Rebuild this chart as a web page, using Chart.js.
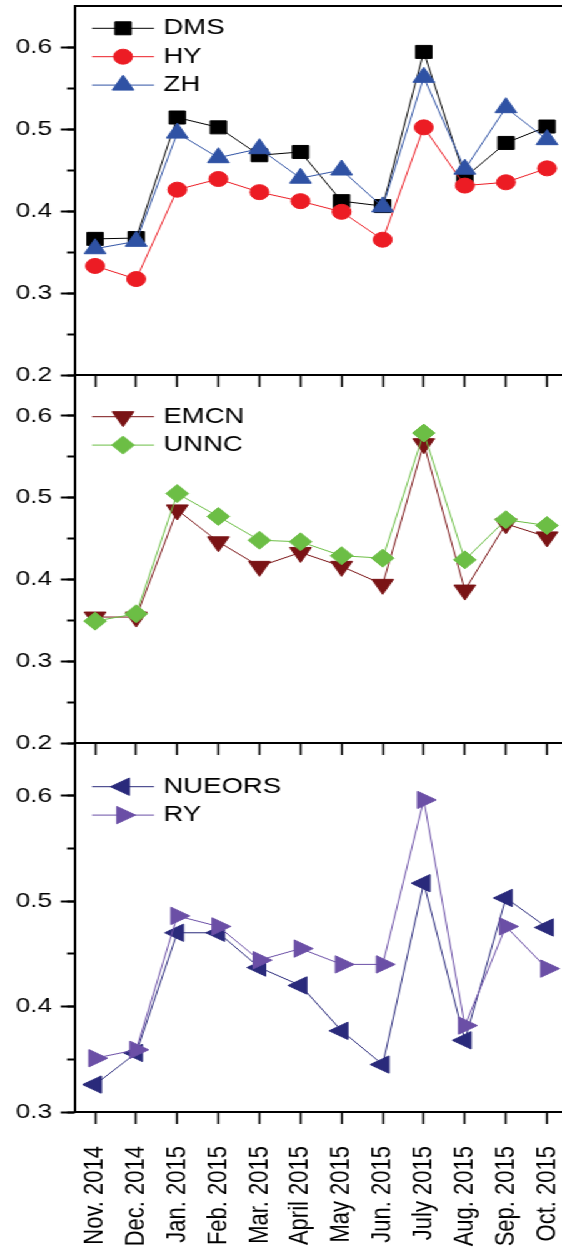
<!DOCTYPE html>
<html>
<head>
<meta charset="utf-8">
<script src="https://cdn.jsdelivr.net/npm/chart.js@4.4.1/dist/chart.umd.min.js"></script>
<style>
  html, body { margin: 0; padding: 0; background: #fff; overflow: hidden; width: 562px; height: 1259px; }
  /* the original figure is stretched sideways, so draw narrow and widen */
  #wrap { position: absolute; left: 0; top: 0; width: 454px; height: 1259px; transform: scaleX(1.25); transform-origin: 0 0; }
  canvas { position: absolute; left: 0; }
</style>
</head>
<body>
<div id="wrap">
  <canvas id="c1" width="454" height="387" style="top:0;width:454px;height:387px"></canvas>
  <canvas id="c2" width="454" height="390" style="top:365px;width:454px;height:390px"></canvas>
  <canvas id="c3" width="454" height="526" style="top:733px;width:454px;height:526px"></canvas>
</div>
<script>
// months on the shared x axis
const months = ["Nov. 2014", "Dec. 2014", "Jan. 2015", "Feb. 2015", "Mar. 2015", "April 2015",
  "May 2015", "Jun. 2015", "July 2015", "Aug. 2015", "Sep. 2015", "Oct. 2015"];

// panel 1
const dms = [0.366, 0.367, 0.514, 0.502, 0.468, 0.472, 0.412, 0.406, 0.594, 0.441, 0.483, 0.503];
const hy  = [0.333, 0.317, 0.426, 0.439, 0.423, 0.412, 0.399, 0.365, 0.502, 0.431, 0.435, 0.452];
const zh  = [0.354, 0.363, 0.495, 0.465, 0.476, 0.440, 0.450, 0.405, 0.563, 0.451, 0.526, 0.487];
// panel 2
const emcn = [0.354, 0.354, 0.485, 0.446, 0.416, 0.433, 0.416, 0.394, 0.566, 0.387, 0.468, 0.452];
const unnc = [0.349, 0.358, 0.505, 0.477, 0.448, 0.446, 0.429, 0.426, 0.579, 0.424, 0.473, 0.466];
// panel 3
const nueors = [0.326, 0.356, 0.470, 0.470, 0.437, 0.420, 0.377, 0.345, 0.517, 0.368, 0.503, 0.475];
const ry     = [0.351, 0.359, 0.486, 0.476, 0.444, 0.455, 0.440, 0.440, 0.596, 0.382, 0.476, 0.436];

// y ranges of the three panels
const yMins = [0.2, 0.2, 0.3];
const yMax = 0.65;

Chart.defaults.font.family = '"Liberation Sans", Arial, Helvetica, sans-serif';
Chart.defaults.color = "#000";

function series(label, data, color, style, radius, rotation) {
  return {
    label, data,
    borderColor: color, backgroundColor: color,
    pointBorderColor: color, pointBackgroundColor: color,
    borderWidth: 1, pointBorderWidth: 1,
    pointStyle: style, pointRadius: radius, pointRotation: rotation || 0,
    tension: 0, fill: false
  };
}

// legend drawn inside the plot: short line with the marker on it, then the name
const lineLegend = {
  id: "lineLegend",
  afterDatasetsDraw(chart, args, opts) {
    const { ctx, chartArea } = chart;
    ctx.save();
    ctx.font = opts.font;
    ctx.textBaseline = "middle";
    ctx.textAlign = "left";
    chart.data.datasets.forEach((ds, i) => {
      const y = chartArea.top + opts.top + i * opts.rowHeight;
      const x0 = chartArea.left + opts.left;
      ctx.strokeStyle = ds.borderColor;
      ctx.lineWidth = ds.borderWidth;
      ctx.beginPath();
      ctx.moveTo(x0, y);
      ctx.lineTo(x0 + opts.lineLength, y);
      ctx.stroke();
      ctx.fillStyle = ds.pointBackgroundColor;
      ctx.strokeStyle = ds.pointBorderColor;
      ctx.lineWidth = ds.pointBorderWidth;
      Chart.helpers.drawPoint(ctx, {
        pointStyle: ds.pointStyle, radius: ds.pointRadius,
        rotation: ds.pointRotation, borderWidth: ds.pointBorderWidth
      }, x0 + opts.lineLength / 2, y);
      ctx.fillStyle = "#000";
      ctx.fillText(ds.label, x0 + opts.textOffset, y);
    });
    ctx.restore();
  }
};

function makeChart(id, datasets, yMin, cfg) {
  // later series sit on top
  datasets.forEach((ds, i) => { ds.order = datasets.length - i; });

  const scales = {
    x: {
      type: "category", position: "bottom", offset: true,
      grid: { drawOnChartArea: false, drawTicks: true, tickLength: 12, tickColor: "#000", tickWidth: 1.6 },
      border: { display: true, color: "#000", width: 2 },
      ticks: { display: cfg.labels, autoSkip: false, minRotation: 90, maxRotation: 90, padding: 22, font: { size: 22 } },
      afterFit: s => { s.height = cfg.xHeight; s.paddingLeft = 0; s.paddingRight = 0; }
    },
    y: {
      type: "linear", position: "left", min: yMin, max: yMax, weight: 1,
      grid: { drawOnChartArea: false, tickLength: 11, tickColor: "#000", tickWidth: 2 },
      border: { display: true, color: "#000", width: 2 },
      ticks: { stepSize: 0.1, includeBounds: false, padding: 7, font: { size: 21 }, callback: v => v.toFixed(1) },
      afterFit: s => { s.width = 59.6; s.paddingTop = 0; s.paddingBottom = 0; }
    },
    yMinor: {
      type: "linear", position: "left", min: yMin, max: yMax, weight: 0,
      grid: {
        drawOnChartArea: false, tickLength: 6, tickWidth: 2,
        tickColor: c => (c.tick && c.tick.value > yMax - 0.01) ? "rgba(0,0,0,0)" : "#000"
      },
      border: { display: false },
      ticks: { stepSize: 0.05, display: false },
      afterFit: s => { s.width = 0; s.paddingTop = 0; s.paddingBottom = 0; }
    }
  };
  if (cfg.topAxis) {
    scales.xTop = {
      type: "category", position: "top", offset: true,
      grid: { drawOnChartArea: false, drawTicks: false },
      border: { display: true, color: "#000", width: 2 },
      ticks: { display: false },
      afterFit: s => { s.height = 0; s.paddingLeft = 0; s.paddingRight = 0; }
    };
  }

  return new Chart(document.getElementById(id), {
    type: "line",
    data: { labels: months, datasets },
    options: {
      responsive: false,
      animation: false,
      events: [],
      layout: { autoPadding: false, padding: { top: cfg.padTop, left: 0, right: 0, bottom: 0 } },
      scales,
      plugins: {
        legend: { display: false },
        tooltip: { enabled: false },
        lineLegend: {
          left: 14, top: cfg.legendTop, rowHeight: 28.4, lineLength: 49.6, textOffset: 57.1,
          font: '22px "Liberation Sans", Arial, Helvetica, sans-serif'
        }
      }
    },
    plugins: [lineLegend]
  });
}

makeChart("c1", [
  series("DMS", dms, "#000000", "rect", 9.2),
  series("HY", hy, "#EC1C24", "circle", 7.5),
  series("ZH", zh, "#2F52A4", "triangle", 10)
], yMins[0], { labels: false, xHeight: 12, padTop: 6, legendTop: 22.3, topAxis: true });

makeChart("c2", [
  series("EMCN", emcn, "#7A1315", "triangle", 10, 180),
  series("UNNC", unnc, "#6CBE45", "rectRot", 9)
], yMins[1], { labels: false, xHeight: 12, padTop: 10, legendTop: 41.7, topAxis: false });

makeChart("c3", [
  series("NUEORS", nueors, "#2A2A7B", "triangle", 10, 270),
  series("RY", ry, "#6B4FA6", "triangle", 10, 90)
], yMins[2], { labels: true, xHeight: 147, padTop: 10, legendTop: 43.7, topAxis: false });
</script>
</body>
</html>
